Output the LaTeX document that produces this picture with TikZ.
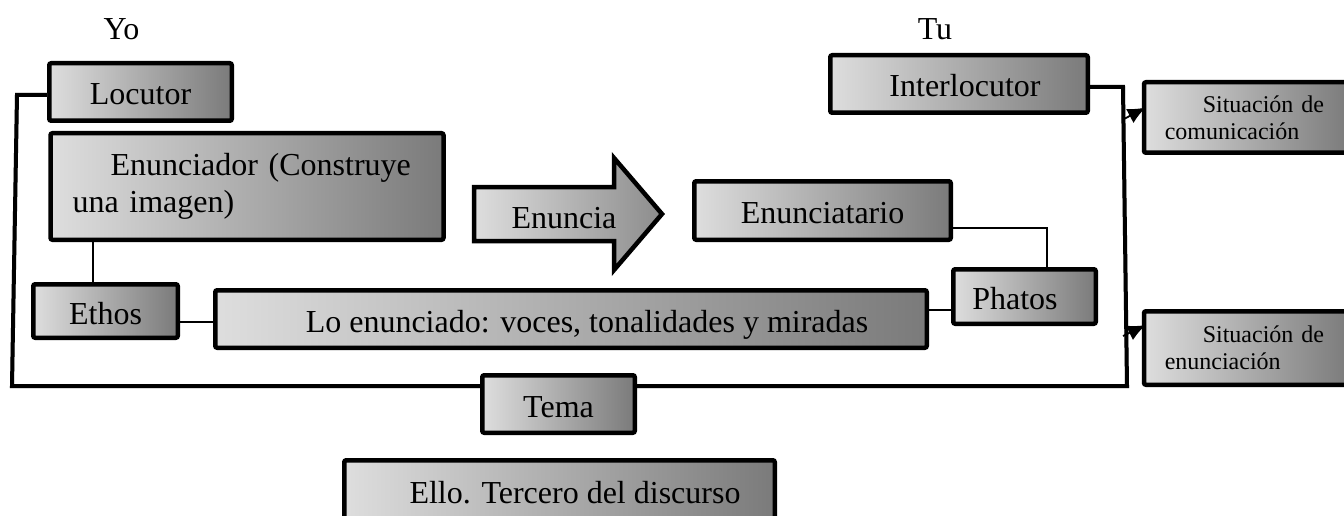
\documentclass[tikz,border=0pt]{standalone}
\usepackage{fontspec}
\setmainfont{Liberation Serif}
\usetikzlibrary{arrows.meta,calc}
\newcommand\mainsz{\fontsize{32}{37}\selectfont}
\newcommand\smallsz{\fontsize{24}{27}\selectfont}
\begin{document}
\begin{tikzpicture}[x=1pt,y=-1pt,
  base/.style={draw=black, line width=4.5pt, rounded corners=2pt,
    left color=black!13, right color=black!52, inner sep=0pt},
  lbl/.style={base, font=\mainsz, text height=26pt, text depth=0pt},
  parabox/.style={base, font=\mainsz, align=left},
  smallbox/.style={base, font=\smallsz, align=left, inner xsep=20.75pt,
    text width=164.5pt, minimum width=206pt},
  plain/.style={font=\mainsz, anchor=base, inner sep=0pt},
  conn/.style={line width=1.2pt},
  framestyle/.style={line width=4pt, line join=miter},
  arr/.style={line width=1.8pt, -{Latex[length=18pt,width=16pt]}}]
\useasboundingbox (0,0) rectangle (1344,516);
\clip (0,0) rectangle (1344,516);

% headings
\node[plain] (yo) at (121.5,40) {Yo};
\node[plain] (tu) at (935,40) {Tu};

% boxes
\node[lbl, minimum width=182.5pt, minimum height=57.5pt] (locutor) at (140.5,92) {Locutor};
\node[lbl, minimum width=257.5pt, minimum height=57.5pt] (interloc) at (959,84) {\hspace*{12pt}Interlocutor};
\node[parabox, text width=349pt, inner xsep=22pt, minimum height=106.5pt] (enunciador) at (247,186.5)
  {\hspace*{38pt}Enunciador (Construye\\una imagen)};
\node[lbl, minimum width=256.5pt, minimum height=58.5pt] (enunciatario) at (822.5,210.5) {Enunciatario};
\node[lbl, minimum width=144.5pt, minimum height=53.5pt] (ethos) at (105.5,311) {Ethos};
\node[lbl, minimum width=711.5pt, minimum height=57.5pt] (lo) at (571,319)
  {\hspace*{32pt}Lo enunciado: voces, tonalidades y miradas};
\node[lbl, minimum width=142.5pt, minimum height=54.5pt] (phatos) at (1024.5,296.5) {\hspace*{-19pt}Phatos};
\node[smallbox, minimum height=70.5pt] (sitcom) at (1247,117.5)
  {\hspace*{38pt}Situación de\\comunicación};
\node[smallbox, minimum height=73.5pt] (sitenun) at (1247,348)
  {\hspace*{38pt}Situación de\\enunciación};
\node[lbl, minimum width=430.5pt, minimum height=59.5pt] (ello) at (559.5,490)
  {\hspace*{31pt}Ello. Tercero del discurso};

% big arrow
\draw[line width=4.5pt, line join=miter, left color=black!13, right color=black!45]
  (474,187) -- (614,187) -- (614,158) -- (662,214) -- (614,270) -- (614,241) -- (474,241) -- cycle;
\node[plain] (enuncia) at (564,228) {Enuncia};

% thin connectors
\draw[conn] ([xshift=-12.5pt]ethos.north) -- ([xshift=-12.5pt]ethos.north |- enunciador.south);
\draw[conn] ([yshift=-11pt]ethos.east) -- ([yshift=-11pt]ethos.east -| lo.west);
\draw[conn] ([yshift=9pt]lo.east) -- ([yshift=9pt]lo.east -| phatos.west);
\draw[conn] ([yshift=-17.5pt]enunciatario.east) -| ([xshift=22.5pt]phatos.north);

% outer frame
\coordinate (f1) at (17,95);
\coordinate (f2) at (12,386);
\coordinate (f3) at (1127,386);
\coordinate (f4) at (1123,87);
\draw[framestyle, black!22, shift={(2,4)}] (locutor.west |- f1) -- (f1) -- (f2) -- (f3) -- (f4);
\draw[framestyle] (locutor.west |- f1) -- (f1) -- (f2) -- (f3) -- (f4) -- (interloc.east |- f4);

\node[lbl, minimum width=152.5pt, minimum height=57.5pt] (tema) at (558.5,404) {Tema};

% arrows to situations
\coordinate (a1) at (1124,119);
\coordinate (a2) at (1123,336);
\draw[arr] (a1) -- ([xshift=4pt,yshift=10pt]sitcom.west);
\draw[arr] (a2) -- ([xshift=4pt,yshift=23pt]sitenun.west);
\end{tikzpicture}
\end{document}
